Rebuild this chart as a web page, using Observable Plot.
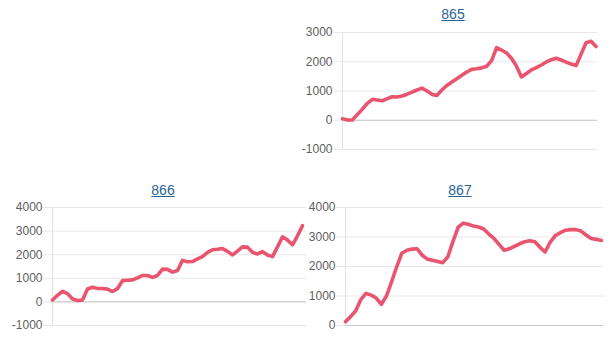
<!DOCTYPE html>
<html><head><meta charset="utf-8">
<script src="https://cdn.jsdelivr.net/npm/d3@7"></script>
<script src="https://cdn.jsdelivr.net/npm/@observablehq/plot@0.6"></script>
<style>
body{margin:0;background:#fff;}
#root{position:relative;width:610px;height:350px;overflow:hidden;font-family:"Liberation Sans",Arial,sans-serif;background:#fff;}
.panel{position:absolute;}
.title{position:absolute;font-size:14px;line-height:16px;color:#2a6496;text-decoration:underline;transform:translateX(-50%);white-space:nowrap;}
</style></head><body><div id="root"></div>
<script>
const titles = ["865", "866", "867"];

const values865 = [50,10,10,200,380,580,715,690,665,740,805,795,830,890,965,1035,1100,1000,885,850,
  1035,1190,1305,1420,1535,1650,1740,1760,1790,1845,2040,2480,2400,2300,2120,1850,1480,1600,1720,1800,
  1890,1990,2070,2120,2060,1990,1920,1870,2260,2650,2700,2520];
const values866 = [80,280,450,350,120,60,80,550,620,570,570,540,440,560,900,920,935,1020,1120,1120,
  1040,1120,1390,1380,1260,1330,1760,1700,1710,1820,1920,2100,2210,2230,2260,2140,1990,2150,2330,2320,
  2100,2030,2130,1990,1920,2330,2760,2620,2420,2800,3230];
const values867 = [130,300,500,880,1090,1030,930,720,1000,1480,1990,2450,2550,2590,2600,2380,2250,2210,2170,2130,
  2330,2850,3330,3470,3430,3370,3340,3270,3100,2950,2750,2550,2600,2680,2770,2840,2870,2840,2650,2490,
  2830,3050,3150,3230,3250,3250,3200,3070,2950,2920,2880];

const ticks865 = [-1000, 0, 1000, 2000, 3000];
const ticks866 = [-1000, 0, 1000, 2000, 3000, 4000];
const ticks867 = [0, 1000, 2000, 3000, 4000];

const root = document.getElementById("root");

function panel(cfg) {
  const t = document.createElement("div");
  t.className = "title";
  t.style.left = cfg.titleX + "px";
  t.style.top = cfg.titleTop + "px";
  t.textContent = cfg.title;
  root.appendChild(t);

  const chart = Plot.plot({
    width: cfg.width,
    height: cfg.height,
    marginLeft: cfg.mL,
    marginRight: cfg.mR,
    marginTop: cfg.mT,
    marginBottom: cfg.mB,
    style: {background: "transparent", fontFamily: "'Liberation Sans', Arial, sans-serif", fontSize: "12px", color: "#666", overflow: "visible"},
    x: {domain: [0, cfg.xMax], axis: null},
    y: {domain: [cfg.ticks[0], cfg.ticks[cfg.ticks.length - 1]], axis: null},
    marks: [
      Plot.gridY(cfg.ticks, {stroke: "#e8e8e8", strokeOpacity: 1}),
      Plot.ruleY([0], {stroke: "#c8c8c8"}),
      Plot.ruleX([0], {stroke: "#e2e2e2"}),
      Plot.axisY(cfg.ticks, {tickSize: 9, tickPadding: 1, stroke: "#e8e8e8", fill: "#606060", fontSize: 12, tickFormat: d => String(d)}),
      Plot.line(cfg.values, {x: (d, i) => i, y: d => d, stroke: "#e9546f", strokeWidth: 3.6, strokeLinejoin: "round", strokeLinecap: "round"})
    ]
  });
  const wrap = document.createElement("div");
  wrap.className = "panel";
  wrap.style.left = cfg.left + "px";
  wrap.style.top = cfg.top + "px";
  wrap.appendChild(chart);
  root.appendChild(wrap);
}

panel({title: titles[0], titleX: 453, titleTop: 6, values: values865, ticks: ticks865,
  left: 290, top: 24, width: 315, height: 136, mL: 52, mR: 8, mT: 8, mB: 11, xMax: 51.3});
panel({title: titles[1], titleX: 163, titleTop: 182, values: values866, ticks: ticks866,
  left: 0, top: 200, width: 315, height: 135, mL: 52, mR: 9, mT: 7, mB: 10, xMax: 50.8});
panel({title: titles[2], titleX: 460, titleTop: 182, values: values867, ticks: ticks867,
  left: 293, top: 200, width: 315, height: 135, mL: 52, mR: 5, mT: 7, mB: 10, xMax: 50.4});
</script>
</body></html>
